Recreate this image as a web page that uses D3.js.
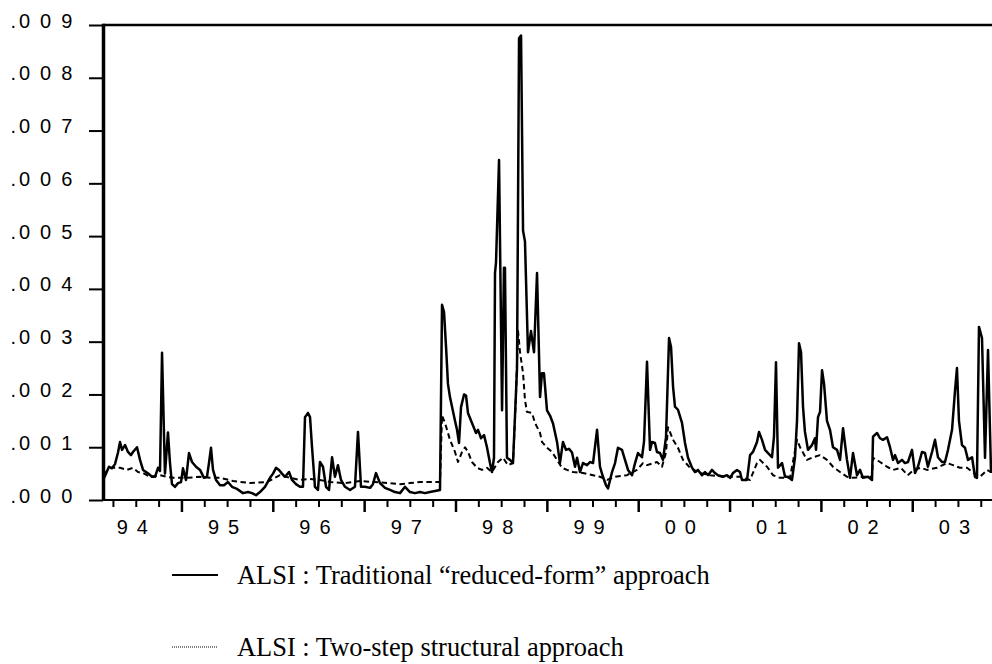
<!DOCTYPE html>
<html><head><meta charset="utf-8">
<script src="https://cdn.jsdelivr.net/npm/d3@7/dist/d3.min.js"></script>
<style>html,body{margin:0;padding:0;background:#fff;overflow:hidden}</style>
</head><body>
<svg id="c" width="992" height="664"></svg>
<script>
// ---------- DATA ----------
const yTicks = [0, 0.001, 0.002, 0.003, 0.004, 0.005, 0.006, 0.007, 0.008, 0.009];
const years = [1994, 1995, 1996, 1997, 1998, 1999, 2000, 2001, 2002, 2003];
const yearLabels = ["94", "95", "96", "97", "98", "99", "00", "01", "02", "03"];
const legendLabels = ["ALSI : Traditional \u201creduced-form\u201d approach", "ALSI : Two-step structural approach"];

// ALSI : Traditional "reduced-form" approach (decimal year, value)
const solidDates = [
1994.136,1994.169,1994.201,1994.234,1994.267,1994.300,1994.322,1994.344,1994.377,1994.409,
1994.442,1994.464,1994.508,1994.541,1994.574,1994.606,1994.639,1994.672,1994.705,1994.738,
1994.760,1994.782,1994.804,1994.814,1994.847,1994.869,1994.891,1994.924,1994.957,1994.990,
1995.011,1995.044,1995.077,1995.110,1995.154,1995.198,1995.241,1995.274,1995.296,1995.318,
1995.340,1995.373,1995.417,1995.460,1995.504,1995.548,1995.603,1995.668,1995.723,1995.767,
1995.811,1995.854,1995.909,1995.964,1995.997,1996.030,1996.062,1996.095,1996.128,1996.172,
1996.205,1996.248,1996.292,1996.325,1996.347,1996.380,1996.402,1996.424,1996.456,1996.489,
1996.511,1996.544,1996.577,1996.610,1996.643,1996.675,1996.708,1996.741,1996.785,1996.840,
1996.894,1996.927,1996.960,1997.004,1997.059,1997.091,1997.124,1997.168,1997.223,1997.278,
1997.332,1997.387,1997.442,1997.496,1997.551,1997.606,1997.661,1997.715,1997.770,1997.825,
1997.847,1997.869,1997.891,1997.912,1997.934,1997.956,1997.989,1998.011,1998.033,1998.055,
1998.088,1998.110,1998.131,1998.175,1998.219,1998.241,1998.274,1998.307,1998.339,1998.372,
1998.394,1998.416,1998.427,1998.438,1998.471,1998.504,1998.525,1998.536,1998.558,1998.591,
1998.624,1998.646,1998.668,1998.690,1998.712,1998.734,1998.755,1998.788,1998.821,1998.854,
1998.887,1998.920,1998.941,1998.963,1998.996,1999.029,1999.062,1999.106,1999.138,1999.171,
1999.204,1999.237,1999.270,1999.303,1999.325,1999.357,1999.390,1999.434,1999.467,1999.500,
1999.544,1999.576,1999.609,1999.642,1999.664,1999.708,1999.741,1999.773,1999.817,1999.850,
1999.883,1999.927,1999.960,1999.992,2000.036,2000.058,2000.091,2000.124,2000.146,2000.178,
2000.200,2000.233,2000.266,2000.299,2000.332,2000.354,2000.376,2000.397,2000.430,2000.474,
2000.507,2000.540,2000.584,2000.616,2000.649,2000.693,2000.726,2000.759,2000.802,2000.835,
2000.868,2000.923,2000.967,2001.000,2001.032,2001.076,2001.109,2001.131,2001.186,2001.219,
2001.251,2001.295,2001.317,2001.350,2001.383,2001.416,2001.459,2001.481,2001.503,2001.525,
2001.569,2001.602,2001.634,2001.678,2001.711,2001.733,2001.755,2001.777,2001.799,2001.820,
2001.853,2001.897,2001.930,2001.941,2001.963,2001.985,2002.007,2002.029,2002.061,2002.094,
2002.127,2002.171,2002.204,2002.237,2002.280,2002.313,2002.346,2002.390,2002.423,2002.455,
2002.510,2002.554,2002.565,2002.609,2002.641,2002.674,2002.718,2002.751,2002.784,2002.806,
2002.839,2002.882,2002.915,2002.948,2002.992,2003.025,2003.057,2003.101,2003.134,2003.166,
2003.211,2003.244,2003.276,2003.320,2003.353,2003.386,2003.430,2003.463,2003.484,2003.506,
2003.539,2003.572,2003.605,2003.649,2003.681,2003.703,2003.725,2003.758,2003.791,2003.824,
2003.857
];
const solidValues = [
0.00038,0.00050,0.00063,0.00060,0.00068,0.00090,0.00110,0.00095,0.00104,0.00091,
0.00085,0.00091,0.00100,0.00076,0.00057,0.00053,0.00049,0.00044,0.00044,0.00061,
0.00055,0.00279,0.00120,0.00050,0.00128,0.00070,0.00030,0.00025,0.00032,0.00034,
0.00060,0.00038,0.00089,0.00072,0.00063,0.00057,0.00042,0.00044,0.00070,0.00099,
0.00057,0.00038,0.00028,0.00028,0.00034,0.00025,0.00021,0.00013,0.00015,0.00013,
0.00009,0.00015,0.00025,0.00042,0.00050,0.00061,0.00057,0.00050,0.00044,0.00053,
0.00038,0.00030,0.00025,0.00025,0.00157,0.00165,0.00157,0.00100,0.00025,0.00019,
0.00072,0.00063,0.00025,0.00019,0.00081,0.00044,0.00066,0.00038,0.00025,0.00019,
0.00025,0.00129,0.00025,0.00025,0.00023,0.00030,0.00051,0.00032,0.00023,0.00019,
0.00015,0.00013,0.00025,0.00015,0.00013,0.00015,0.00013,0.00015,0.00017,0.00019,
0.00370,0.00356,0.00290,0.00220,0.00195,0.00177,0.00150,0.00133,0.00108,0.00176,
0.00200,0.00198,0.00165,0.00146,0.00127,0.00133,0.00117,0.00123,0.00100,0.00070,
0.00053,0.00080,0.00430,0.00450,0.00644,0.00170,0.00440,0.00440,0.00080,0.00076,
0.00070,0.00160,0.00250,0.00875,0.00880,0.00510,0.00490,0.00280,0.00320,0.00280,
0.00430,0.00195,0.00240,0.00240,0.00170,0.00160,0.00145,0.00110,0.00070,0.00110,
0.00095,0.00097,0.00090,0.00063,0.00080,0.00053,0.00070,0.00066,0.00072,0.00070,
0.00133,0.00063,0.00044,0.00028,0.00022,0.00053,0.00070,0.00099,0.00095,0.00076,
0.00057,0.00047,0.00070,0.00089,0.00081,0.00110,0.00262,0.00095,0.00110,0.00108,
0.00091,0.00089,0.00076,0.00119,0.00307,0.00290,0.00215,0.00177,0.00171,0.00146,
0.00108,0.00080,0.00061,0.00053,0.00057,0.00047,0.00053,0.00047,0.00057,0.00051,
0.00047,0.00044,0.00047,0.00042,0.00051,0.00057,0.00053,0.00038,0.00038,0.00085,
0.00091,0.00110,0.00129,0.00114,0.00095,0.00089,0.00081,0.00120,0.00261,0.00061,
0.00070,0.00044,0.00044,0.00038,0.00081,0.00150,0.00297,0.00280,0.00176,0.00129,
0.00095,0.00104,0.00117,0.00095,0.00157,0.00167,0.00246,0.00220,0.00150,0.00133,
0.00100,0.00095,0.00076,0.00136,0.00076,0.00042,0.00089,0.00047,0.00057,0.00042,
0.00044,0.00038,0.00120,0.00127,0.00117,0.00114,0.00119,0.00100,0.00076,0.00085,
0.00070,0.00076,0.00070,0.00072,0.00095,0.00051,0.00063,0.00091,0.00089,0.00063,
0.00091,0.00114,0.00081,0.00072,0.00072,0.00095,0.00133,0.00208,0.00250,0.00150,
0.00104,0.00099,0.00076,0.00081,0.00044,0.00042,0.00328,0.00307,0.00080,0.00284,
0.00051
];

// ALSI : Two-step structural approach (decimal year, value)
const dashDates = [
1994.136,1994.158,1994.212,1994.267,1994.322,1994.398,1994.464,1994.519,1994.574,1994.650,
1994.760,1994.836,1994.902,1995.055,1995.198,1995.307,1995.417,1995.559,1995.745,1995.931,
1996.073,1996.183,1996.292,1996.402,1996.511,1996.621,1996.785,1996.949,1997.113,1997.278,
1997.387,1997.496,1997.606,1997.715,1997.825,1997.847,1997.880,1997.934,1997.989,1998.022,
1998.066,1998.099,1998.131,1998.175,1998.230,1998.285,1998.339,1998.394,1998.460,1998.515,
1998.569,1998.624,1998.635,1998.657,1998.679,1998.701,1998.734,1998.755,1998.776,1998.832,
1998.865,1998.920,1998.941,1998.996,1999.051,1999.106,1999.160,1999.215,1999.281,1999.390,
1999.500,1999.576,1999.653,1999.741,1999.872,1999.981,2000.047,2000.091,2000.200,2000.255,
2000.299,2000.321,2000.376,2000.430,2000.485,2000.562,2000.671,2000.780,2000.967,2001.109,
2001.219,2001.295,2001.328,2001.405,2001.470,2001.547,2001.656,2001.733,2001.766,2001.842,
2001.908,2001.985,2002.061,2002.127,2002.204,2002.280,2002.346,2002.455,2002.554,2002.565,
2002.641,2002.718,2002.784,2002.869,2002.945,2003.011,2003.088,2003.155,2003.265,2003.375,
2003.441,2003.517,2003.594,2003.668,2003.736,2003.814,2003.857
];
const dashValues = [
0.00050,0.00051,0.00061,0.00061,0.00061,0.00057,0.00061,0.00053,0.00051,0.00044,
0.00047,0.00044,0.00042,0.00042,0.00044,0.00042,0.00042,0.00036,0.00032,0.00034,
0.00047,0.00042,0.00038,0.00040,0.00038,0.00034,0.00032,0.00036,0.00034,0.00032,
0.00030,0.00032,0.00034,0.00034,0.00034,0.00160,0.00146,0.00114,0.00091,0.00072,
0.00091,0.00100,0.00091,0.00072,0.00061,0.00057,0.00061,0.00053,0.00072,0.00080,
0.00066,0.00070,0.00110,0.00200,0.00320,0.00280,0.00240,0.00190,0.00167,0.00165,
0.00146,0.00127,0.00110,0.00099,0.00091,0.00076,0.00061,0.00057,0.00053,0.00051,
0.00047,0.00044,0.00038,0.00044,0.00047,0.00057,0.00070,0.00066,0.00072,0.00063,
0.00090,0.00138,0.00114,0.00099,0.00076,0.00061,0.00051,0.00047,0.00044,0.00044,
0.00038,0.00070,0.00076,0.00063,0.00047,0.00042,0.00042,0.00114,0.00100,0.00076,
0.00081,0.00085,0.00076,0.00063,0.00053,0.00044,0.00042,0.00044,0.00044,0.00080,
0.00072,0.00063,0.00057,0.00061,0.00047,0.00057,0.00061,0.00057,0.00061,0.00070,
0.00066,0.00061,0.00061,0.00051,0.00044,0.00057,0.00053
];

// ---------- CHART ----------
const svg = d3.select("#c");
const W = 992;
const plotLeft = 103, plotTop = 25, plotBottom = 500;
const x = d3.scaleLinear().domain([1994, 2004]).range([90.6, 1004.1]);
const y = d3.scaleLinear().domain([0, 0.009]).range([plotBottom, plotTop]);
const axisFont = "'Liberation Sans', Arial, sans-serif";
const LS = 9; // letter spacing of x labels
const YLS = 9.9; // letter spacing of y labels

const solid = solidDates.map((d, i) => ({t: d, v: solidValues[i]}));
const dashed = dashDates.map((d, i) => ({t: d, v: dashValues[i]}));

const line = d3.line().x(d => x(d.t)).y(d => y(d.v));

svg.append("path").datum(dashed)
  .attr("d", line).attr("fill", "none").attr("stroke", "#000")
  .attr("stroke-width", 2).attr("stroke-dasharray", "5.5,3.5")
  .attr("stroke-linejoin", "round");

svg.append("path").datum(solid)
  .attr("d", line).attr("fill", "none").attr("stroke", "#000")
  .attr("stroke-width", 2.5).attr("stroke-linejoin", "round");

// frame: top line, left axis, bottom axis
svg.append("line").attr("x1", plotLeft).attr("x2", W).attr("y1", plotTop).attr("y2", plotTop)
  .attr("stroke", "#000").attr("stroke-width", 2.5);
svg.append("line").attr("x1", plotLeft + 0.5).attr("x2", plotLeft + 0.5).attr("y1", plotTop - 1.2).attr("y2", plotBottom + 1)
  .attr("stroke", "#000").attr("stroke-width", 3.5);
svg.append("line").attr("x1", plotLeft).attr("x2", W).attr("y1", plotBottom).attr("y2", plotBottom)
  .attr("stroke", "#000").attr("stroke-width", 2);

// y axis
const yAxis = d3.axisLeft(y).tickValues(yTicks).tickSize(14).tickFormat("");
const gy = svg.append("g").attr("transform", `translate(${plotLeft},0)`).call(yAxis);
gy.select(".domain").remove();
gy.selectAll(".tick line").attr("stroke", "#000").attr("stroke-width", 2);
svg.append("g").selectAll("text").data(yTicks).enter().append("text")
  .attr("x", 10.5).attr("y", d => y(d) + 2.6)
  .attr("dx", `0 ${-YLS + 3} 0 0`)
  .attr("font-family", axisFont).attr("font-size", 20).attr("fill", "#000")
  .attr("letter-spacing", YLS)
  .text(d => d3.format(".3f")(d).replace(/^0/, ""));

// x axis: quarterly minor ticks, yearly major ticks
const minor = [];
years.forEach(yr => [0.25, 0.5, 0.75].forEach(q => minor.push(yr + q)));
const gx = svg.append("g");
gx.selectAll("line.minor").data(minor.filter(t => x(t) > plotLeft && x(t) < W)).enter()
  .append("line").attr("class", "minor")
  .attr("x1", d => x(d)).attr("x2", d => x(d)).attr("y1", plotBottom).attr("y2", plotBottom + 7)
  .attr("stroke", "#000").attr("stroke-width", 2);
gx.selectAll("line.major").data(years.filter(t => x(t) > plotLeft && x(t) < W)).enter()
  .append("line").attr("class", "major")
  .attr("x1", d => x(d)).attr("x2", d => x(d)).attr("y1", plotBottom).attr("y2", plotBottom + 12)
  .attr("stroke", "#000").attr("stroke-width", 2.5);
gx.selectAll("text").data(years).enter().append("text")
  .attr("x", (d) => x(d + 0.5) + LS / 2 - 4)
  .attr("y", plotBottom + 34)
  .attr("text-anchor", "middle")
  .attr("font-family", axisFont).attr("font-size", 20).attr("letter-spacing", LS)
  .attr("fill", "#000")
  .text((d, i) => yearLabels[i]);

// legend
const legFont = "'Liberation Serif', 'Times New Roman', serif";
const lg = svg.append("g");
const legY = [575, 647];
lg.append("line").attr("x1", 172).attr("x2", 218).attr("y1", legY[0]).attr("y2", legY[0])
  .attr("stroke", "#000").attr("stroke-width", 2);
lg.append("line").attr("x1", 172).attr("x2", 218).attr("y1", legY[1]).attr("y2", legY[1])
  .attr("stroke", "#000").attr("stroke-width", 1).attr("stroke-dasharray", "1,1");
const t0 = lg.append("text").attr("x", 237).attr("y", legY[0] + 9)
  .attr("font-family", legFont).attr("font-size", 25).attr("fill", "#000").text(legendLabels[0]);
const t1 = lg.append("text").attr("x", 237).attr("y", legY[1] + 9)
  .attr("font-family", legFont).attr("font-size", 25).attr("fill", "#000").text(legendLabels[1]);
// scale legend font to match the reference text width
const len0 = t0.node().getComputedTextLength();
const fs = 25 * 473 / len0;
t0.attr("font-size", fs); t1.attr("font-size", fs);
</script>
</body></html>
